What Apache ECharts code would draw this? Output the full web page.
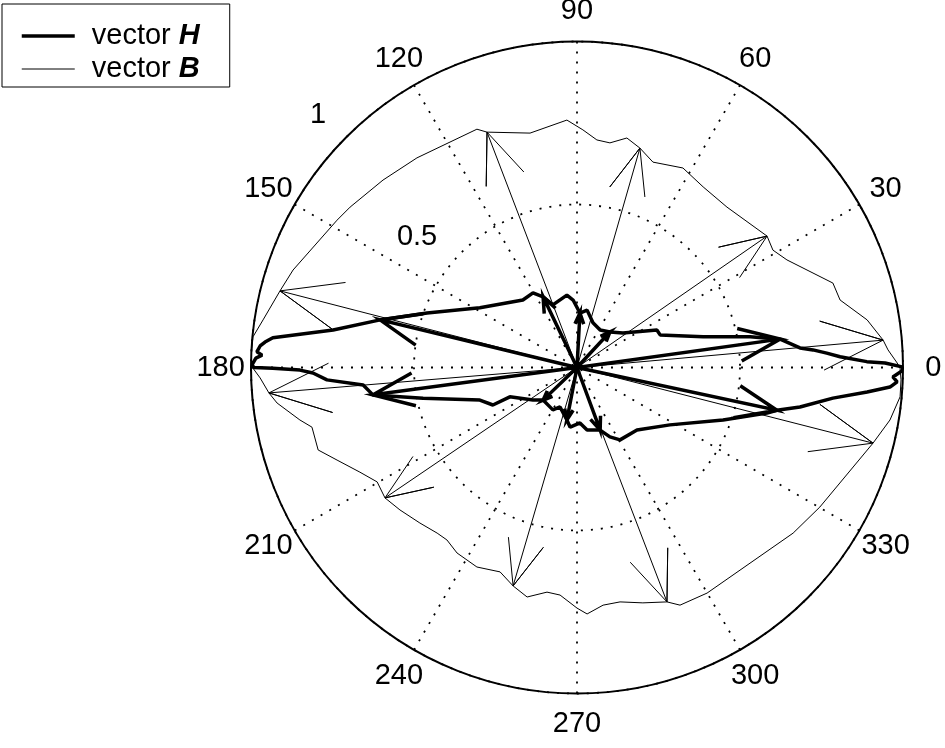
<!DOCTYPE html>
<html>
<head>
<meta charset="utf-8">
<script src="https://cdn.jsdelivr.net/npm/echarts@6/dist/echarts.min.js"></script>
<style>
  html, body { margin: 0; padding: 0; background: #fff; }
  #chart { width: 945px; height: 748px; }
</style>
</head>
<body>
<div id="chart"></div>
<script>
// Locus of the flux-density vector B over one period (normalised x / y components)
const bX = [0.991, 0.994, 0.991, 0.982, 0.954, 0.939, 0.890, 0.807, 0.785, 0.644,
            0.601, 0.583, 0.460, 0.387, 0.325, 0.233, 0.193, 0.153, 0.101, 0.061,
            0.018, -0.031, -0.144, -0.276, -0.307, -0.491, -0.595, -0.696, -0.736, -0.871,
            -0.911, -0.963, -0.994, -1.000, -0.997, -0.972, -0.945, -0.920, -0.850, -0.813,
            -0.794, -0.736, -0.666, -0.613, -0.589, -0.543, -0.482, -0.429, -0.399, -0.368,
            -0.307, -0.236, -0.196, -0.153, -0.092, -0.052, 0.000, 0.031, 0.080, 0.132,
            0.202, 0.276, 0.316, 0.399, 0.663, 0.745, 0.908, 0.960];
const bY = [-0.090, -0.038, -0.002, 0.014, 0.054, 0.084, 0.146, 0.207, 0.259, 0.330,
            0.360, 0.403, 0.492, 0.554, 0.612, 0.630, 0.673, 0.704, 0.689, 0.698,
            0.729, 0.759, 0.719, 0.722, 0.731, 0.643, 0.575, 0.492, 0.452, 0.299,
            0.235, 0.146, 0.094, 0.038, 0.002, -0.032, -0.078, -0.109, -0.161, -0.183,
            -0.253, -0.284, -0.321, -0.351, -0.400, -0.437, -0.477, -0.508, -0.529, -0.569,
            -0.612, -0.627, -0.670, -0.704, -0.689, -0.698, -0.738, -0.756, -0.729, -0.719,
            -0.722, -0.719, -0.729, -0.692, -0.508, -0.428, -0.232, -0.161];

// Locus of the field-strength vector H over the same period (normalised x / y components)
const hX = [0.997, 0.945, 0.889, 0.807, 0.766, 0.724, 0.684, 0.623, 0.531, 0.387,
            0.255, 0.245, 0.141, 0.101, 0.071, 0.049, 0.031, 0.009, -0.012, -0.031,
            -0.074, -0.104, -0.135, -0.166, -0.298, -0.460, -0.604, -0.748, -0.933, -0.957,
            -0.972, -0.982, -0.966, -0.985, -0.997, -0.991, -0.933, -0.850, -0.810, -0.767,
            -0.656, -0.626, -0.472, -0.298, -0.258, -0.206, -0.135, -0.104, -0.074, -0.052,
            -0.031, -0.021, 0.009, 0.031, 0.071, 0.101, 0.132, 0.184, 0.285, 0.448,
            0.583, 0.613, 0.684, 0.785, 0.890, 0.960, 0.982, 0.969, 1.000];
const hY = [0.002, 0.014, 0.018, 0.033, 0.044, 0.054, 0.060, 0.087, 0.094, 0.094,
            0.100, 0.115, 0.106, 0.109, 0.115, 0.137, 0.176, 0.167, 0.207, 0.222,
            0.192, 0.217, 0.229, 0.207, 0.183, 0.167, 0.146, 0.115, 0.091, 0.078,
            0.066, 0.048, 0.038, 0.029, 0.008, 0.000, -0.002, -0.008, -0.017, -0.038,
            -0.054, -0.084, -0.094, -0.100, -0.115, -0.090, -0.100, -0.100, -0.130, -0.121,
            -0.161, -0.183, -0.170, -0.192, -0.192, -0.213, -0.222, -0.192, -0.176, -0.161,
            -0.140, -0.131, -0.121, -0.094, -0.075, -0.060, -0.044, -0.029, -0.008];

// Instants shown as compass arrows (indices into the loci above)
const bArrowAt = [5, 11, 16, 23, 30, 36, 44, 52, 61, 66];
const hArrowAt = [7, 13, 17, 21, 26, 41, 47, 50, 54, 61];

// Axis labelling
const angleTicks = [0, 30, 60, 90, 120, 150, 180, 210, 240, 270, 300, 330];
const radiusTicks = [0.5, 1];

const FONT = 'Liberation Sans, Arial, Helvetica, sans-serif';
const DOTS = { color: '#000', width: 1.8, type: [2, 8] };

// [x, y] components -> [radius, angle in degrees] for the polar system
function toPolar(x, y) {
  let a = Math.atan2(y, x) * 180 / Math.PI;
  if (a < 0) a += 360;
  return [Math.hypot(x, y), a];
}

function loop(xs, ys) {
  const pts = xs.map((x, i) => toPolar(x, ys[i]));
  pts.push(pts[0]);
  return pts;
}

// Compass-style arrow: shaft from the origin plus two open barbs
function arrow(x, y) {
  const mul = (a, b) => toPolar(x * a - y * b, x * b + y * a);
  return [[0, 0], toPolar(x, y), mul(0.8, 0.08), toPolar(x, y), mul(0.8, -0.08)];
}

const series = [];
function addVector(name, xs, ys, at, width) {
  series.push({
    name, type: 'line', coordinateSystem: 'polar', data: loop(xs, ys),
    showSymbol: false, symbol: 'none', smooth: false,
    itemStyle: { color: '#000' },
    lineStyle: { color: '#000', width }, z: 3
  });
  at.forEach(i => {
    series.push({
      name, type: 'line', coordinateSystem: 'polar', data: arrow(xs[i], ys[i]),
      showSymbol: false, symbol: 'none',
      itemStyle: { color: '#000' },
      lineStyle: { color: '#000', width, join: 'miter' }, z: 3
    });
  });
}
addVector('vector H', hX, hY, hArrowAt, 3.5);
addVector('vector B', bX, bY, bArrowAt, 1);

const chart = echarts.init(document.getElementById('chart'), null, { renderer: 'canvas' });
chart.setOption({
  animation: false,
  backgroundColor: '#fff',
  polar: { center: [577, 367.5], radius: 326 },
  angleAxis: {
    type: 'value', min: 0, max: 360, interval: 30, startAngle: 0, clockwise: false,
    axisLine: { lineStyle: { color: '#000', width: 2 } },
    axisTick: { show: false }, axisLabel: { show: false },
    splitLine: { show: true, lineStyle: DOTS }
  },
  radiusAxis: {
    type: 'value', min: 0, max: 1, interval: 0.5,
    axisLine: { show: false }, axisTick: { show: false }, axisLabel: { show: false },
    splitLine: { show: true, lineStyle: DOTS }
  },
  legend: {
    data: [
      { name: 'vector H', itemStyle: { opacity: 0 }, lineStyle: { width: 3.5, color: '#000' } },
      { name: 'vector B', itemStyle: { opacity: 0 }, lineStyle: { width: 1, color: '#000' } }
    ],
    orient: 'vertical', left: 2, top: 4,
    padding: [17, 30, 3, 18], itemGap: 3, itemWidth: 53, itemHeight: 14,
    backgroundColor: '#fff', borderColor: '#000', borderWidth: 1, borderRadius: 0,
    selectedMode: false,
    formatter: n => n === 'vector H' ? 'vector {v|H}' : 'vector {v|B}',
    textStyle: {
      color: '#000', fontFamily: FONT, fontSize: 29, lineHeight: 30, padding: [0, 0, 0, 12],
      rich: { v: { fontFamily: FONT, fontSize: 29, fontWeight: 'bold', fontStyle: 'italic', color: '#000' } }
    }
  },
  series
});

// Tick labels placed through the polar system: angles centred just outside the rim,
// radii up along the upper-left side.
const textStyle = { fill: '#000', font: '29px ' + FONT, textAlign: 'center', textVerticalAlign: 'middle' };
const labels = [];
angleTicks.forEach(a => {
  const p = chart.convertToPixel({ seriesIndex: 0 }, [1.093, a]);
  labels.push({ type: 'text', x: p[0], y: p[1], silent: true, style: Object.assign({ text: String(a) }, textStyle) });
});
const radiusLabelAt = [[0.633, 140.8], [1.11, 135.7]];
radiusTicks.forEach((r, i) => {
  const p = chart.convertToPixel({ seriesIndex: 0 }, radiusLabelAt[i]);
  labels.push({ type: 'text', x: p[0], y: p[1], silent: true, style: Object.assign({ text: String(r) }, textStyle) });
});
chart.setOption({ graphic: labels });
</script>
</body>
</html>
